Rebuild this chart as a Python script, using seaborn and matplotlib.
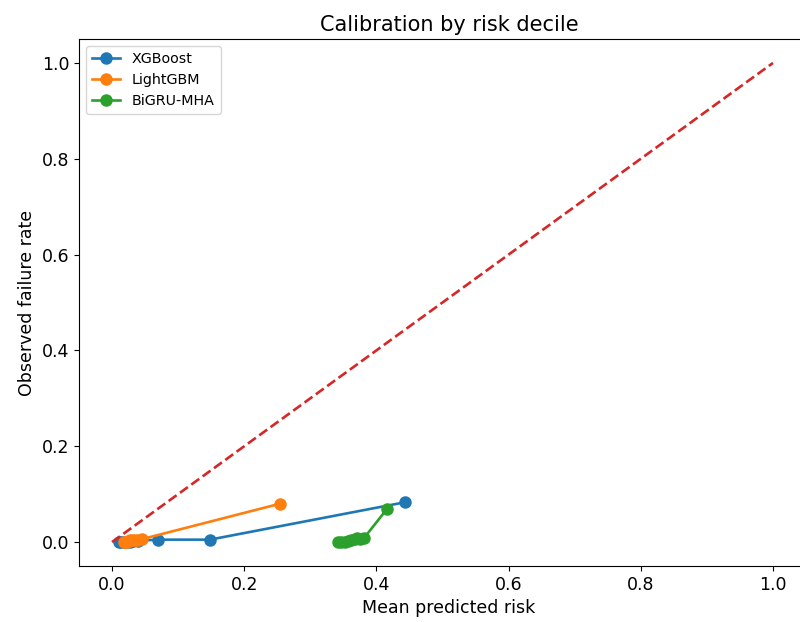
import pandas as pd
import seaborn as sns
import matplotlib.pyplot as plt

models = ['XGBoost', 'LightGBM', 'BiGRU-MHA']

xgb_pred = [0.010, 0.014, 0.018, 0.022, 0.027, 0.032, 0.040, 0.070, 0.148, 0.443]
xgb_obs = [0.0, 0.0, 0.0, 0.0, 0.0, 0.002, 0.003, 0.005, 0.005, 0.083]

lgb_pred = [0.018, 0.020, 0.022, 0.025, 0.027, 0.030, 0.035, 0.040, 0.045, 0.254]
lgb_obs = [0.0, 0.0, 0.0, 0.003, 0.005, 0.004, 0.005, 0.005, 0.006, 0.080]

bigru_pred = [0.342, 0.347, 0.352, 0.357, 0.362, 0.367, 0.371, 0.375, 0.381, 0.416]
bigru_obs = [0.0, 0.0, 0.0, 0.002, 0.004, 0.007, 0.008, 0.007, 0.008, 0.069]


def main():
    frames = []
    for name, xs, ys in zip(models, [xgb_pred, lgb_pred, bigru_pred],
                            [xgb_obs, lgb_obs, bigru_obs]):
        frames.append(pd.DataFrame({'pred': xs, 'obs': ys, 'model': name}))
    df = pd.concat(frames, ignore_index=True)

    plt.rcParams['font.size'] = 12.5
    fig = plt.figure(figsize=(8, 6.22), dpi=100)
    # axes run past the right edge, as in the reference crop
    ax = fig.add_axes([79 / 800, 56 / 622, 740 / 800, 527 / 622])
    sns.lineplot(data=df, x='pred', y='obs', hue='model', marker='o',
                 markersize=9, markeredgewidth=0, sort=False,
                 palette=['tab:blue', 'tab:orange', 'tab:green'],
                 linewidth=1.9, ax=ax)
    ax.plot([0, 1], [0, 1], linestyle='--', color='tab:red', linewidth=1.9)

    ax.set_title('Calibration by risk decile', fontsize=15)
    ax.set_xlabel('Mean predicted risk')
    ax.set_ylabel('Observed failure rate')
    ax.set_xlim(-0.05, -0.05 + 740 * 1.1 / 727)
    ax.set_ylim(-0.05, 1.05)
    ax.legend(title=None, fontsize=10.3, loc='upper left')

    plt.savefig('out.png')


if __name__ == '__main__':
    main()
